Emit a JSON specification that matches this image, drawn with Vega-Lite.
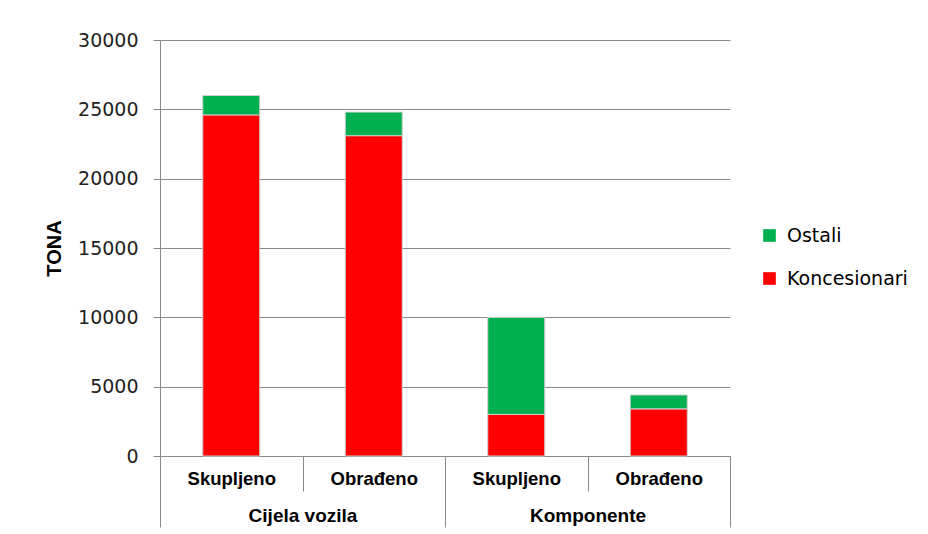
{
  "$schema": "https://vega.github.io/schema/vega-lite/v6.json",
  "width": 570,
  "height": 416,
  "autosize": {"type": "none"},
  "padding": {"left": 160, "top": 40, "right": 198, "bottom": 78},
  "background": "white",
  "config": {"view": {"stroke": null}, "font": "Liberation Sans"},
  "datasets": {
    "bars": [
      {"key": "Cijela vozila|Skupljeno", "group": "Cijela vozila", "sub": "Skupljeno", "series": "Koncesionari", "ord": 1, "value": 24600},
      {"key": "Cijela vozila|Skupljeno", "group": "Cijela vozila", "sub": "Skupljeno", "series": "Ostali", "ord": 2, "value": 1400},
      {"key": "Cijela vozila|Obrađeno", "group": "Cijela vozila", "sub": "Obrađeno", "series": "Koncesionari", "ord": 1, "value": 23100},
      {"key": "Cijela vozila|Obrađeno", "group": "Cijela vozila", "sub": "Obrađeno", "series": "Ostali", "ord": 2, "value": 1700},
      {"key": "Komponente|Skupljeno", "group": "Komponente", "sub": "Skupljeno", "series": "Koncesionari", "ord": 1, "value": 3000},
      {"key": "Komponente|Skupljeno", "group": "Komponente", "sub": "Skupljeno", "series": "Ostali", "ord": 2, "value": 7000},
      {"key": "Komponente|Obrađeno", "group": "Komponente", "sub": "Obrađeno", "series": "Koncesionari", "ord": 1, "value": 3400},
      {"key": "Komponente|Obrađeno", "group": "Komponente", "sub": "Obrađeno", "series": "Ostali", "ord": 2, "value": 1000}
    ],
    "groups": [
      {"group": "Cijela vozila"},
      {"group": "Komponente"}
    ]
  },
  "layer": [
    {
      "data": {"name": "bars"},
      "mark": {"type": "bar", "stroke": "#d0d0d0", "strokeWidth": 1, "width": {"band": 0.4}},
      "encoding": {
        "x": {
          "field": "key", "type": "nominal", "sort": null,
          "scale": {"paddingInner": 0, "paddingOuter": 0},
          "axis": {
            "orient": "bottom", "title": null,
            "labelExpr": "split(datum.label, '|')[1]",
            "labelAngle": 0, "labelFont": "Liberation Sans", "labelFontWeight": "bold",
            "labelFontSize": 18.5, "labelColor": "#000", "labelBaseline": "middle",
            "labelPadding": -13, "ticks": true, "tickBand": "extent", "tickSize": 35,
            "tickColor": "#888", "domainColor": "#888", "grid": false
          }
        },
        "y": {
          "field": "value", "type": "quantitative", "stack": "zero",
          "scale": {"domain": [0, 30000]},
          "axis": {
            "title": "TONA", "titleFont": "Liberation Sans", "titleFontSize": 20,
            "titleFontWeight": "bold", "titleColor": "#000", "titlePadding": 13,
            "labelFont": "DejaVu Sans", "labelFontSize": 19, "labelColor": "#222",
            "labelPadding": 15, "tickSize": 7, "tickColor": "#888", "domainColor": "#888",
            "gridColor": "#888", "values": [0, 5000, 10000, 15000, 20000, 25000, 30000],
            "format": "d"
          }
        },
        "color": {
          "field": "series", "type": "nominal",
          "scale": {"domain": ["Ostali", "Koncesionari"], "range": ["#00B050", "#FF0000"]},
          "legend": {
            "title": null, "orient": "none", "legendX": 600, "legendY": 186,
            "symbolType": "square", "symbolSize": 160, "symbolStrokeWidth": 0,
            "labelFont": "DejaVu Sans", "labelFontSize": 19, "labelColor": "#000",
            "rowPadding": 23, "labelOffset": 8, "padding": 0
          }
        },
        "order": {"field": "ord", "type": "quantitative"}
      }
    },
    {
      "data": {"name": "groups"},
      "mark": {"type": "rule", "opacity": 0},
      "encoding": {
        "x": {
          "field": "group", "type": "nominal", "sort": null,
          "scale": {"paddingInner": 0, "paddingOuter": 0},
          "axis": {
            "orient": "bottom", "title": null, "labelAngle": 0,
            "labelFont": "Liberation Sans", "labelFontWeight": "bold", "labelFontSize": 19,
            "labelColor": "#000", "labelBaseline": "middle", "labelPadding": -12,
            "ticks": true, "tickBand": "extent", "tickSize": 71, "tickColor": "#888",
            "domain": false, "grid": false
          }
        }
      }
    }
  ],
  "resolve": {"scale": {"x": "independent"}}
}
